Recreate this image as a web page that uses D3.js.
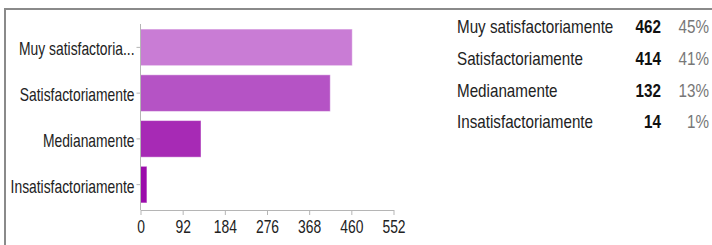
<!DOCTYPE html>
<html>
<head>
<meta charset="utf-8">
<script src="https://cdn.jsdelivr.net/npm/d3@7"></script>
<style>
  body { margin: 0; background: #fff; }
  text { font-family: "Liberation Sans", Arial, sans-serif; }
</style>
</head>
<body>
<script>
const categories = ["Muy satisfactoriamente", "Satisfactoriamente", "Medianamente", "Insatisfactoriamente"];
const axis_labels = ["Muy satisfactoria...", "Satisfactoriamente", "Medianamente", "Insatisfactoriamente"];
const counts = [462, 414, 132, 14];
const percents = ["45%", "41%", "13%", "1%"];
const x_ticks = [0, 92, 184, 276, 368, 460, 552];
const colors = ["#c97cd5", "#b553c5", "#a72ab5", "#9b0bab"];

const width = 712, height = 245;
const font_size = 18;
// the reference uses a narrow face, so texts get squeezed horizontally
const squeeze_axis = 0.77;
const squeeze_table = 0.845;

const svg = d3.select("body").append("svg")
    .attr("width", width)
    .attr("height", height);

// frame (top + left only)
svg.append("line").attr("x1", 4).attr("x2", width).attr("y1", 9).attr("y2", 9)
    .attr("stroke", "#8a8a8a").attr("stroke-width", 2);
svg.append("line").attr("x1", 5).attr("x2", 5).attr("y1", 8).attr("y2", height)
    .attr("stroke", "#8a8a8a").attr("stroke-width", 2);

// scales
const x_scale = d3.scaleLinear().domain([0, 552]).range([140.5, 393.5]);
const y_scale = d3.scaleBand().domain(categories).range([24.5, 207.5])
    .paddingInner(0.2).paddingOuter(0.1);

// bars
svg.selectAll("rect.bar")
    .data(categories)
    .enter()
    .append("rect")
    .attr("class", "bar")
    .attr("x", x_scale(0))
    .attr("y", function(d) { return y_scale(d); })
    .attr("width", function(d, i) { return x_scale(counts[i]) - x_scale(0); })
    .attr("height", y_scale.bandwidth())
    .attr("fill", function(d, i) { return colors[i]; })
    .attr("stroke", "#ffffff")
    .attr("stroke-opacity", 0.45)
    .attr("stroke-width", 1);

// x axis
const x_axis = svg.append("g")
    .attr("transform", "translate(0,210)")
    .call(d3.axisBottom(x_scale).tickValues(x_ticks).tickSize(5).tickSizeOuter(0));
x_axis.select(".domain").attr("stroke", "#b5b5b5");
x_axis.selectAll(".tick line").attr("stroke", "#b5b5b5");
x_axis.selectAll(".tick text")
    .attr("class", "axis_text")
    .attr("y", 10)
    .attr("font-size", font_size)
    .attr("font-family", null)
    .attr("fill", "#222");

// y axis
const y_axis = svg.append("g")
    .attr("transform", "translate(140.5,0)")
    .call(d3.axisLeft(y_scale).tickSize(4).tickSizeOuter(0).tickPadding(2)
        .tickFormat(function(d, i) { return axis_labels[i]; }));
y_axis.select(".domain").attr("stroke", "#b5b5b5").attr("d", "M0,24V210");
y_axis.selectAll(".tick line").attr("stroke", "#b5b5b5");
y_axis.selectAll(".tick text")
    .attr("class", "axis_text")
    .attr("dy", "0.45em")
    .attr("font-size", font_size)
    .attr("font-family", null)
    .attr("fill", "#222");

// summary table
const row_y = d3.scalePoint().domain(categories).range([27, 122]);

const rows = svg.selectAll("g.row")
    .data(categories)
    .enter()
    .append("g")
    .attr("class", "row")
    .attr("transform", function(d) { return "translate(0," + row_y(d) + ")"; });

rows.append("text")
    .attr("class", "table_text")
    .attr("x", 457)
    .attr("dy", "0.35em")
    .attr("font-size", font_size)
    .attr("fill", "#222")
    .text(function(d) { return d; });

rows.append("text")
    .attr("class", "table_text")
    .attr("x", 661)
    .attr("dy", "0.35em")
    .attr("text-anchor", "end")
    .attr("font-size", font_size)
    .attr("font-weight", "bold")
    .attr("fill", "#111")
    .text(function(d, i) { return counts[i]; });

rows.append("text")
    .attr("class", "table_text")
    .attr("x", 709)
    .attr("dy", "0.35em")
    .attr("text-anchor", "end")
    .attr("font-size", font_size)
    .attr("fill", "#777")
    .text(function(d, i) { return percents[i]; });

// scale each text horizontally around its own anchor x
function squeeze(sel, k) {
    sel.each(function() {
        const x = +d3.select(this).attr("x") || 0;
        d3.select(this)
            .attr("transform", "translate(" + x + ",0) scale(" + k + ",1) translate(" + (-x) + ",0)");
    });
}
squeeze(svg.selectAll("text.axis_text"), squeeze_axis);
squeeze(svg.selectAll("text.table_text"), squeeze_table);
</script>
</body>
</html>
